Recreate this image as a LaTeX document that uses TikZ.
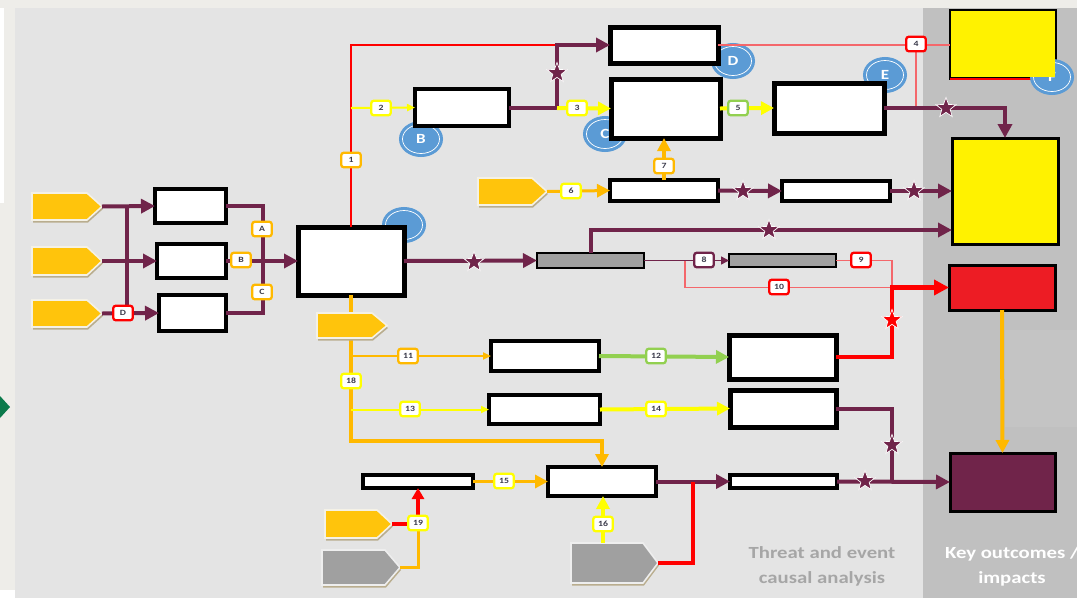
\documentclass[tikz,border=0pt]{standalone}
\usepackage{fontspec}
\usetikzlibrary{arrows.meta,shapes.geometric}
\newfontfamily\wf[FakeStretch=1.22]{Carlito}
\definecolor{maroon}{HTML}{70244A}
\definecolor{redc}{HTML}{FF0000}
\definecolor{thinred}{HTML}{F4676B}
\definecolor{yellowc}{HTML}{FFFF00}
\definecolor{boxyellow}{HTML}{FFF200}
\definecolor{orangec}{HTML}{FFB900}
\definecolor{greenc}{HTML}{92D050}
\definecolor{bluec}{HTML}{5B9BD5}
\definecolor{badgetext}{HTML}{3A3A4A}
\definecolor{greybox}{HTML}{A0A0A0}
\definecolor{panel}{HTML}{E4E4E4}
\definecolor{rpanel}{HTML}{C0C0C0}
\definecolor{rpanelb}{HTML}{C4C4C4}
\definecolor{outerbg}{HTML}{EEEDE9}
\definecolor{txtgrey}{HTML}{A6A6A6}
\definecolor{pyellow}{HTML}{FFC40C}
\definecolor{pgrey}{HTML}{A0A0A0}
\definecolor{pedge}{HTML}{F4F1E6}
\definecolor{pgedge}{HTML}{EEEEEE}
\definecolor{pshad}{HTML}{B9AD8E}
\definecolor{redbox}{HTML}{ED1C24}
\definecolor{darkgreen}{HTML}{0B7A4B}
\newcommand\badgefont{\wf\bfseries\fontsize{8}{8}\selectfont}
\newcommand\circfont{\wf\bfseries\fontsize{14}{14}\selectfont}
\newcommand\wbox[6][]{\node[bx,#1,minimum width={(#4-#2-4)*1pt},minimum height={(#5-#3-4)*1pt}] (#6) at ({(#2+#4)/2},{(#3+#5)/2}) {};}
\newcommand\pent[7]{%
  \fill[pshad] ({#2+1},{#3+2.5}) -- ({#4-14},{#3+2.5}) -- ({#4+1},{(#3+#5)/2+2.5}) -- ({#4-14},{#5+2.5}) -- ({#2+1},{#5+2.5}) -- cycle;
  \filldraw[fill=#6, draw=#7, line width=1.6pt, line join=miter] (#2,#3) -- ({#4-15},#3) -- (#4,{(#3+#5)/2}) -- ({#4-15},#5) -- (#2,#5) -- cycle;
  \coordinate (#1) at (#4,{(#3+#5)/2});}
\begin{document}
\begin{tikzpicture}[x=1pt,y=-1pt,
  bx/.style={rectangle,draw=black,line width=4pt,fill=white,inner sep=0pt,outer sep=0pt},
  gbx/.style={fill=greybox,line width=2pt},
  mln/.style={draw=maroon,line width=4pt},
  marr/.style={mln,-{Triangle[length=14pt,width=14pt]}},
  mthin/.style={draw=maroon,line width=1.5pt,-{Triangle[length=8pt,width=8pt]}},
  rthk/.style={draw=redc,line width=4.5pt},
  rarr/.style={rthk,-{Triangle[length=15pt,width=15pt]}},
  rthin/.style={draw=thinred,line width=1.1pt},
  ythin/.style={draw=yellowc,line width=2pt,-{Triangle[length=8pt,width=7pt]}},
  ymed/.style={draw=yellowc,line width=4pt,-{Triangle[length=13pt,width=13pt]}},
  othin/.style={draw=orangec,line width=2pt,-{Triangle[length=8pt,width=7pt]}},
  omed/.style={draw=orangec,line width=4pt},
  oarr/.style={omed,-{Triangle[length=13pt,width=13pt]}},
  garr/.style={draw=greenc,line width=4pt,-{Triangle[length=13pt,width=13pt]}},
  bdg/.style={rectangle,draw=#1,line width=2.3pt,fill=white,rounded corners=2.5pt,minimum width=19.5pt,minimum height=14.5pt,inner sep=0pt,text=badgetext,font=\badgefont},
  mstar/.style={star,star points=5,star point ratio=2.4,fill=maroon,draw=white,line width=0.7pt,minimum size=21pt,inner sep=0pt},
  rstar/.style={mstar,fill=redc},
  bc/.style={ellipse,fill=bluec,draw=white,line width=0.7pt,minimum width=37pt,minimum height=29pt,inner sep=0pt,preaction={draw=bluec,line width=7pt},text=white,font=\circfont}
]
\useasboundingbox (0,0) rectangle (1077,598);
% backgrounds
\fill[outerbg] (0,0) rectangle (1077,598);
\fill[white] (0,8) rectangle (4,203);
\fill[white] (0,590) rectangle (15,598);
\fill[panel] (15,8) rectangle (923,598);
\fill[rpanel] (923,8) rectangle (1077,598);
\fill[rpanelb] (1005,330) rectangle (1077,427);
\fill[darkgreen] (0,396) -- (10,407) -- (0,418) -- cycle;

% circles behind boxes
\node[bc] (cG) at (404,225) {};
\node[bc] (cB) at (421,139) {B};
\node[bc] (cC) at (605,134) {C};
\node[bc] (cD) at (733,61) {D};
\node[bc] (cE) at (885,75) {E};

% boxes
\wbox{153}{187}{228}{225}{L1}
\wbox{155}{242}{228}{280}{L2}
\wbox{157}{293}{228}{333}{L3}
\wbox[line width=5pt]{296}{225}{406}{297}{M}
\wbox{413}{87}{511}{128}{B}
\wbox[line width=5pt]{608}{25}{720}{65}{T1}
\wbox[line width=5pt]{609}{77}{722}{140}{T2}
\wbox[line width=5pt]{772}{81}{886}{135}{T3}
\wbox[fill=boxyellow,line width=3pt]{948}{8}{1057}{80}{Y1}
\wbox[fill=boxyellow,line width=3pt]{950}{136}{1060}{246}{Y2}
\wbox{608}{178}{720}{203}{R6a}
\wbox{780}{179}{892}{203}{R6b}
\wbox[gbx]{535}{251}{646}{270}{G1}
\wbox[gbx]{727}{252}{838}{269}{G2}
\wbox[fill=redbox,line width=3pt]{947}{263}{1057}{312}{Red}
\wbox[fill=maroon,line width=3pt]{948}{451}{1057}{513}{Pur}
\wbox{489}{339}{601}{373}{R11a}
\wbox[line width=5pt]{727}{333}{838}{381}{R11b}
\wbox{487}{393}{602}{426}{R13a}
\wbox[line width=5pt]{728}{388}{838}{429}{R13b}
\wbox{361}{473}{475}{490}{R15a}
\wbox{546}{465}{658}{498}{R15b}
\wbox{728}{473}{839}{490}{R15c}
% Y1 overlap with circle F
\draw[redc,line width=1.2pt] (950,79) -- (1033,79);
\node[bc] (cF) at (1052,77) {F};
\fill[boxyellow] (951,10.5) rectangle (1055,77);

% input arrows
\pent{P1}{32}{193}{102}{220}{pyellow}{pedge}
\pent{P2}{32}{247}{102}{275}{pyellow}{pedge}
\pent{P3}{32}{300}{102}{327}{pyellow}{pedge}
\pent{P6}{478}{178}{547}{205}{pyellow}{pedge}
\pent{P19a}{325}{510}{392}{538}{pyellow}{pedge}
\pent{P19b}{322}{550}{400}{585}{pgrey}{pgedge}
\pent{P16}{571}{543}{658}{583}{pgrey}{pgedge}
\coordinate (P16n) at (603,543);

% junction coordinates
\coordinate (jT) at (557,45);
\coordinate (jB) at (557,108);
\coordinate (j2y) at (351,108);
\coordinate (jL1) at (127,206.5);
\coordinate (jL3) at (127,313.5);
\coordinate (jr) at (263,261);
\coordinate (y230) at (0,230);
\coordinate (jR) at (892,287.5);
\coordinate (jS) at (685,260.5);
\coordinate (y441) at (0,441);
\coordinate (j356) at (351,356);
\coordinate (j409) at (351,409.5);
\coordinate (jP) at (892,481.5);
\coordinate (jQ) at (693,481.5);
\coordinate (j19) at (418,524);
\coordinate (b4c) at (916,45);

% left cluster
\draw[marr] (P1) -- (L1.west);
\draw[marr] (P2) -- (L2.west);
\draw[marr] (P3) -- (L3.west);
\draw[mln] (jL1) -- (jL3);
\draw[mln] (L1.east) -| (jr) |- (L3.east);
\draw[marr] (L2.east) -- (M.west);

% top branch
\draw[draw=redc,line width=2.5pt] (M.north) |- (jT);
\draw[ythin] (j2y) -- (B.west);
\draw[marr] (B.east) -| (jT) -- (T1.west);
\draw[ymed] (jB) -- (T2.west);
\draw[rthin] (T1.east) -- (T1.east -| Y1.west);
\draw[rthin] (b4c) -- (b4c |- T3.east);
\draw[draw=yellowc,line width=4pt,-{Triangle[length=13pt,width=13pt]}] (T2.east) -- (T3.west);
\draw[marr] (T3.east) -| (Y2.north);

% row 6
\draw[draw=orangec,line width=3pt,-{Triangle[length=13pt,width=13pt]}] (P6) -- (R6a.west);
\draw[oarr] (R6a.north) -- (R6a.north |- T2.south);
\draw[marr] (R6a.east) -- (R6b.west);
\draw[marr] (R6b.east) -- (R6b.east -| Y2.west);

% main row
\draw[marr] (M.east) -- (G1.west);
\draw[marr] (G1.north) |- (Y2.west |- y230);
\draw[mthin] (G1.east) -- (G2.west);
\draw[rthin] (G2.east) -| (jR);
\draw[rthin] (jS) |- (jR);
\draw[rarr] (R11b.east) -| (jR) -- (jR -| Red.west);
\draw[oarr] (Red.south) -- (Pur.north);

% lower branches
\draw[oarr] (M.south) -- (M.south |- y441) -| (R15b.north);
\draw[othin] (j356) -- (R11a.west);
\draw[garr] (R11a.east) -- (R11b.west);
\draw[ythin] (j409) -- (R13a.west);
\draw[ymed] (R13a.east) -- (R13b.west);
\draw[mln] (R13b.east) -| (jP);
\draw[draw=orangec,line width=3.5pt,-{Triangle[length=13pt,width=13pt]}] (R15a.east) -- (R15b.west);
\draw[marr] (R15b.east) -- (R15c.west);
\draw[marr] (R15c.east) -- (Pur.west);
\draw[rthk] (P16) -| (jQ);
\draw[ymed] (P16n) -- (P16n |- R15b.south);
\draw[draw=redc,line width=3.5pt] (P19a) -- (j19);
\draw[draw=redc,line width=3.5pt,-{Triangle[length=11pt,width=12pt]}] (j19) -- (R15a.south);
\draw[draw=orangec,line width=3pt] (P19b) -| (j19);

% input arrow below main box (covers line)
\pent{P4}{317}{313}{387}{338}{pyellow}{pedge}

% badges
\node[bdg=orangec] (bA) at (262,229) {A};
\node[bdg=orangec] (bBb) at (241,260) {B};
\node[bdg=orangec] (bC) at (262,292) {C};
\node[bdg=redc] (bD) at (123,313) {D};
\node[bdg=orangec] (b1) at (351,160) {1};
\node[bdg=yellowc] (b2) at (381,108) {2};
\node[bdg=yellowc] (b3) at (577,108) {3};
\node[bdg=redc] (b4) at (916,44) {4};
\node[bdg=greenc] (b5) at (738,108) {5};
\node[bdg=yellowc] (b6) at (571,191) {6};
\node[bdg=orangec] (b7) at (664,166) {7};
\node[bdg=maroon] (b8) at (704,260) {8};
\node[bdg=redc] (b9) at (861,260) {9};
\node[bdg=redc] (b10) at (779,287) {10};
\node[bdg=orangec] (b11) at (408,356) {11};
\node[bdg=greenc] (b12) at (656,356) {12};
\node[bdg=yellowc] (b13) at (410,409) {13};
\node[bdg=yellowc] (b14) at (656,409) {14};
\node[bdg=yellowc] (b15) at (504,481) {15};
\node[bdg=yellowc] (b16) at (603,524) {16};
\node[bdg=yellowc] (b18) at (351,381) {18};
\node[bdg=yellowc] (b19) at (418,523) {19};

% stars
\node[mstar] (s1) at (557,73) {};
\node[mstar] (s2) at (946,108) {};
\node[mstar] (s3) at (743,191) {};
\node[mstar] (s4) at (914,191) {};
\node[mstar] (s5) at (474,262) {};
\node[mstar] (s6) at (769,230) {};
\node[rstar] (s7) at (892,320) {};
\node[mstar] (s8) at (892,445) {};
\node[mstar] (s9) at (865,481) {};

% texts
\node[font=\wf\bfseries\fontsize{17}{25}\selectfont,text=txtgrey,align=center,inner sep=0pt] (t1) at (822,566) {Threat and event\\causal analysis};
\node[font=\wf\bfseries\fontsize{17}{25}\selectfont,text=white,align=center,inner sep=0pt] (t2) at (1012,566) {Key outcomes /\\impacts};
\end{tikzpicture}
\end{document}
